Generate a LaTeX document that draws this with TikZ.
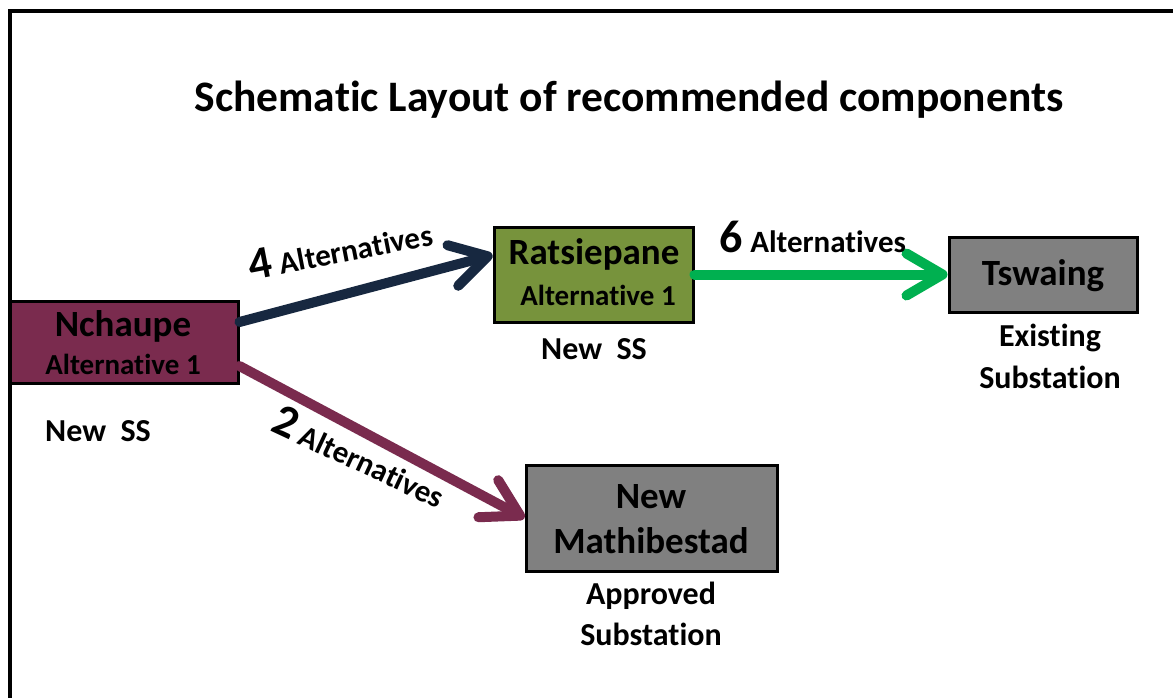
\documentclass[tikz,border=0pt]{standalone}
\usepackage{fontspec}
\setmainfont{Carlito}[Ligatures=NoCommon]
\usetikzlibrary{arrows.meta}
\definecolor{nchcol}{RGB}{122,43,78}
\definecolor{ratcol}{RGB}{119,147,60}
\definecolor{graybox}{RGB}{128,128,128}
\definecolor{navyarr}{RGB}{23,40,64}
\definecolor{greenarr}{RGB}{0,176,80}
\tikzset{
  box/.style={draw=black, line width=3pt, inner sep=0pt},
  lbl/.style={font=\bfseries, inner sep=0pt, text=black},
  conn/.style={line width=10pt, line cap=round,
    -{Straight Barb[length=36pt,width=42pt,line cap=round,line join=round]}},
}
\newcommand{\fs}[1]{\fontsize{#1}{#1}\selectfont}
\newcommand{\altlabel}[1]{{\fs{46}#1}\hspace{7pt}{\fs{31}Alternatives}}
\begin{document}
\begin{tikzpicture}[x=1pt,y=-1pt]
\useasboundingbox (0,0) rectangle (1173,698);
\draw[line width=4pt] (10,698) -- (10,11) -- (1173,11);
\node[lbl, font=\bfseries\fs{43.5}] (title) at (629,100) {Schematic Layout of recommended components};
% boxes
\node[box, fill=nchcol, minimum width=228pt, minimum height=82pt] (nch) at (124,342) {};
\node[box, fill=ratcol, minimum width=199pt, minimum height=95pt] (rat) at (593.5,274.5) {};
\node[box, fill=graybox, minimum width=188pt, minimum height=75pt] (tsw) at (1043,274.5) {};
\node[box, fill=graybox, minimum width=251pt, minimum height=106pt] (mat) at (651.5,518) {};
% box texts
\node[lbl, font=\bfseries\fs{37}] (nch1) at (123,326) {Nchaupe};
\node[lbl, font=\bfseries\fs{29}] (nch2) at (123,364) {Alternative 1};
\node[lbl, font=\bfseries\fs{37}] (rat1) at (594,254) {Ratsiepane};
\node[lbl, font=\bfseries\fs{29}] (rat2) at (598,295) {Alternative 1};
\node[lbl, font=\bfseries\fs{37}] (tsw1) at (1043,276) {Tswaing};
\node[lbl, font=\bfseries\fs{37}] (mat1) at (651,497) {New};
\node[lbl, font=\bfseries\fs{37}] (mat2) at (651,541) {Mathibestad};
% captions
\node[lbl, font=\bfseries\fs{32}] (nchc) at (98,431) {New\ \ SS};
\node[lbl, font=\bfseries\fs{32}] (ratc) at (594,349) {New\ \ SS};
\node[lbl, font=\bfseries\fs{32}] (tswc1) at (1050,338) {Existing};
\node[lbl, font=\bfseries\fs{32}] (tswc2) at (1050,377) {Substation};
\node[lbl, font=\bfseries\fs{32}] (matc1) at (651,596) {Approved};
\node[lbl, font=\bfseries\fs{32}] (matc2) at (651,634) {Substation};
% connectors
\draw[conn, draw=navyarr] ([yshift=20pt]nch.east) -- ([yshift=19.5pt]rat.west);
\draw[conn, draw=nchcol] ([yshift=-24pt]nch.east) -- (mat.west);
\draw[conn, draw=greenarr] (rat.east) -- (tsw.west);
% connector labels
\node[lbl, rotate=11] (l4) at (340,248) {\altlabel{4}};
\node[lbl] (l6) at (813,237) {\altlabel{6}};
\node[lbl, rotate=-25] (l2) at (360,456) {\altlabel{2}};
\end{tikzpicture}
\end{document}
